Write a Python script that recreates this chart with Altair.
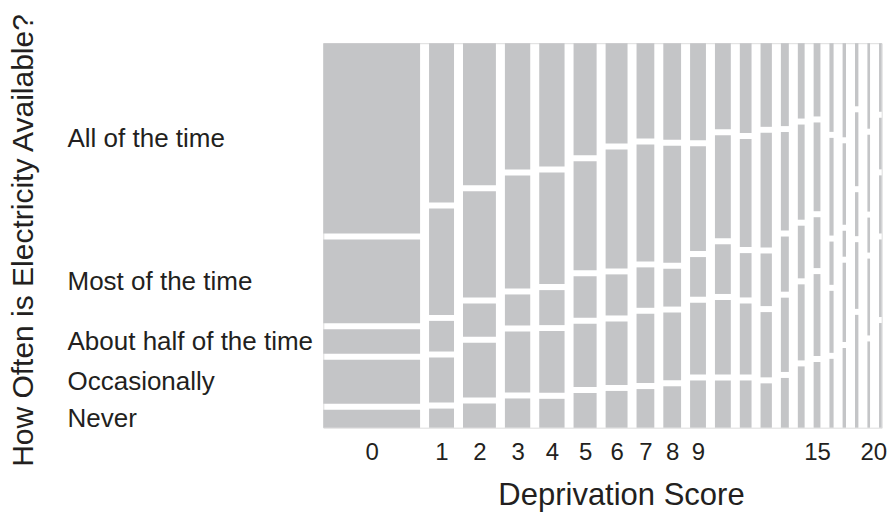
import altair as alt
import pandas as pd

# ---- data ----
scores = list(range(21))
tick_scores = [0, 1, 2, 3, 4, 5, 6, 7, 8, 9, 15, 20]
# share of households with each deprivation score (%), column widths
share = [25.6, 6.6, 8.7, 6.7, 6.7, 6.1, 5.8, 4.7, 4.7, 4.2, 4.2,
         3.1, 3.0, 2.1, 1.8, 1.8, 1.1, 0.9, 0.9, 0.7, 0.7]
categories = ["Never", "Occasionally", "About half of the time",
              "Most of the time", "All of the time"]
# conditional shares (%) of each availability answer within each score
never = [5.0, 5.3, 6.7, 8.1, 8.0, 9.6, 10.2, 10.7, 11.5, 13.1, 13.1,
         13.1, 12.3, 13.8, 17.0, 18.2, 19.1, 22.1, 31.3, 23.9, 29.0]
occasionally = [12.2, 12.5, 15.2, 16.9, 17.1, 17.6, 17.6, 19.2, 18.8, 19.9, 20.7,
                19.7, 18.1, 20.6, 21.1, 22.7, 17.2, 22.0, 18.5, 21.3, 21.5]
half_time = [6.8, 8.5, 9.2, 8.6, 9.7, 11.5, 11.4, 11.2, 10.5, 11.0, 13.8,
             12.3, 14.6, 15.3, 14.6, 14.1, 12.0, 7.2, 12.2, 9.7, 16.1]
most_time = [23.2, 29.5, 29.5, 31.3, 30.9, 30.3, 33.0, 32.4, 32.5, 29.1, 28.6,
             30.0, 31.8, 27.3, 26.4, 24.6, 27.1, 22.6, 20.5, 21.3, 14.3]
all_time = [52.8, 44.2, 39.4, 35.0, 34.2, 31.1, 27.8, 26.4, 26.8, 26.9, 23.9,
            24.9, 23.2, 23.0, 20.9, 20.3, 24.6, 26.1, 17.5, 23.7, 19.0]
series = [never, occasionally, half_time, most_time, all_time]

# ---- mosaic layout (plot units = pixels of the plot area) ----
W, H = 558.4, 384.5
GAP_X, GAP_Y = 9.0, 6.0
avail_x = W - GAP_X * (len(scores) - 1)
avail_y = H - GAP_Y * (len(categories) - 1)
tot_share = sum(share)

rows = []
centers = {}
x = 0.0
for i, s in enumerate(scores):
    w = share[i] / tot_share * avail_x
    vals = [ser[i] for ser in series]
    tot = sum(vals)
    y = 0.0
    for c, v in zip(categories, vals):
        h = v / tot * avail_y
        rows.append({"score": s, "answer": c, "x0": x, "x1": x + w,
                     "y0": y, "y1": y + h, "pct": v})
        if i == 0:
            centers.setdefault("y_" + c, y + h / 2)
        y += h + GAP_Y
    centers[s] = x + w / 2
    x += w + GAP_X

df = pd.DataFrame(rows)


def range_label_expr(positions, labels):
    pairs = sorted(zip(positions, labels))
    expr = "'" + pairs[-1][1] + "'"
    for k in range(len(pairs) - 2, -1, -1):
        mid = (pairs[k][0] + pairs[k + 1][0]) / 2
        expr = f"datum.value < {mid:.3f} ? '{pairs[k][1]}' : ({expr})"
    return expr


x_vals = [round(centers[s], 3) for s in tick_scores]
x_expr = range_label_expr(x_vals, [str(s) for s in tick_scores])
y_vals = [round(centers["y_" + c], 3) for c in categories]
y_expr = range_label_expr(y_vals, categories)
last_tick_cut = (x_vals[-1] + x_vals[-2]) / 2

FONT = "Liberation Sans"
TXT = "#231f20"

chart = alt.Chart(df).mark_rect(color="#c4c5c7").encode(
    x=alt.X("x0:Q", scale=alt.Scale(domain=[0, W], nice=False, zero=False),
            axis=alt.Axis(values=x_vals, labelExpr=x_expr, ticks=False, domain=False,
                          grid=False, labelFontSize=24, labelFont=FONT, labelColor=TXT,
                          labelBaseline="alphabetic", labelPadding=32, labelOverlap=False,
                          labelFlush=False,
                          labelOffset={"condition": {"test": f"datum.value > {last_tick_cut:.3f}",
                                                     "value": -7},
                                       "value": 0},
                          title="Deprivation Score", titleFontSize=31, titleFont=FONT,
                          titleFontWeight="normal", titleColor=TXT,
                          titleX=297.7, titleY=77, titleBaseline="alphabetic",
                          titleAlign="center")),
    x2="x1:Q",
    y=alt.Y("y0:Q", scale=alt.Scale(domain=[0, H], nice=False, zero=False),
            axis=alt.Axis(values=y_vals, labelExpr=y_expr, ticks=False, domain=False,
                          grid=False, labelFontSize=26, labelFont=FONT, labelColor=TXT,
                          labelAlign="left", labelBaseline="middle", labelPadding=256.3,
                          labelLimit=500, labelOverlap=False, labelFlush=False,
                          title="How Often is Electricity Available?", titleFontSize=30,
                          titleFont=FONT, titleFontWeight="normal", titleColor=TXT,
                          titleAngle=270, titleX=-291.3, titleY=196.8,
                          titleBaseline="alphabetic", titleAlign="center")),
    y2="y1:Q",
    tooltip=["score:O", "answer:N", "pct:Q"],
).properties(
    width=W, height=H,
    autosize=alt.AutoSizeParams(type="none"),
    padding={"left": 315.3, "top": 35.2, "right": 5, "bottom": 84},
).configure_view(stroke=None).configure(background="white")

chart.save("out.html", embed_options={"renderer": "svg", "actions": False})
